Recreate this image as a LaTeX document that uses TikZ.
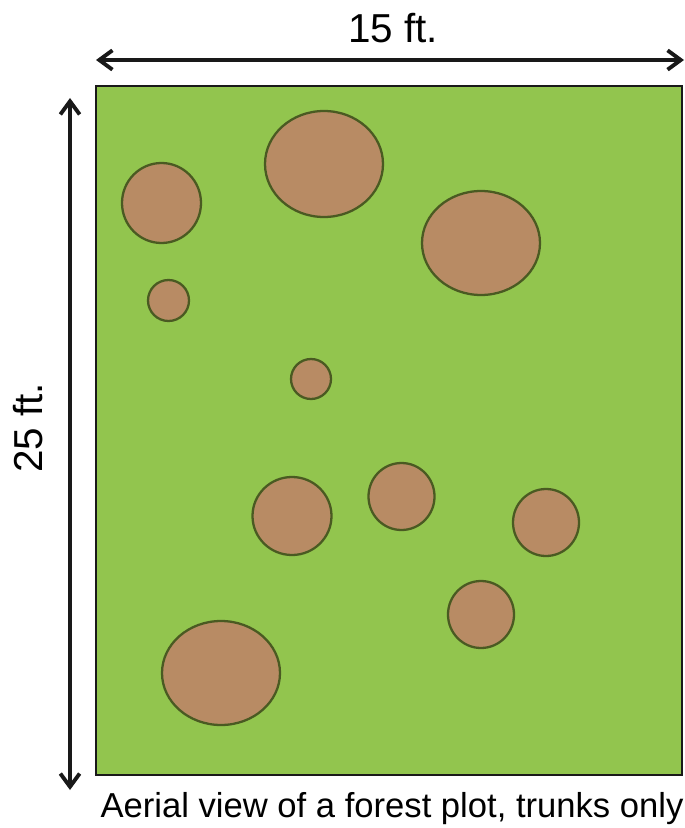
\documentclass[tikz,border=0pt]{standalone}
\usepackage{fontspec}
\setmainfont{Liberation Sans}
\usepackage{xcolor}
\usetikzlibrary{arrows.meta}

\definecolor{grass}{HTML}{92C54E}
\definecolor{bark}{HTML}{B88B64}
\definecolor{barkline}{HTML}{4A5A22}

\begin{document}
\begin{tikzpicture}[
    x=0.02cm, y=-0.02cm,
    >={Straight Barb[length=7.5pt, width=11pt]},
    plot/.style={draw=black!90, line width=1.6pt, fill=grass},
    trunk/.style={draw=barkline, line width=1.3pt, fill=bark},
    dimline/.style={<->, line width=2.2pt, black!90},
    dimlabel/.style={font=\fontsize{23}{26}\selectfont, anchor=base},
    caption/.style={font=\fontsize{19.7}{22}\selectfont, anchor=base}
]
\useasboundingbox (0,0) rectangle (684,828);

% Forest plot
\coordinate (plotNW) at (96,86);
\coordinate (plotSE) at (682,775);
\draw[plot] (plotNW) rectangle (plotSE);

% Trunks
\draw[trunk] (161.5,203) ellipse [x radius=39.5, y radius=40];
\draw[trunk] (324,164) ellipse [x radius=59, y radius=53];
\draw[trunk] (481,243) ellipse [x radius=59, y radius=52];
\draw[trunk] (168.5,300.5) circle [radius=20.5];
\draw[trunk] (311,379) circle [radius=20];
\draw[trunk] (292,516) ellipse [x radius=39.5, y radius=39];
\draw[trunk] (401.5,496.5) ellipse [x radius=33, y radius=33.5];
\draw[trunk] (546,522.5) ellipse [x radius=33, y radius=33.5];
\draw[trunk] (481,614.5) ellipse [x radius=33, y radius=33.5];
\draw[trunk] (221,673) ellipse [x radius=59, y radius=52];

% Width arrow
\coordinate (widthL) at (96,60);
\coordinate (widthR) at (684,60);
\draw[dimline] (widthL) -- (widthR);
\node[dimlabel] (widthlabel) at (393,43) {15 ft.};

% Length arrow
\coordinate (lengthT) at (70,98);
\coordinate (lengthB) at (70,790);
\draw[dimline] (lengthT) -- (lengthB);
\node[dimlabel, rotate=90] (lengthlabel) at (42,428) {25 ft.};

% Caption
\node[caption] (caption) at (392,817) {Aerial view of a forest plot, trunks only};

\end{tikzpicture}
\end{document}
